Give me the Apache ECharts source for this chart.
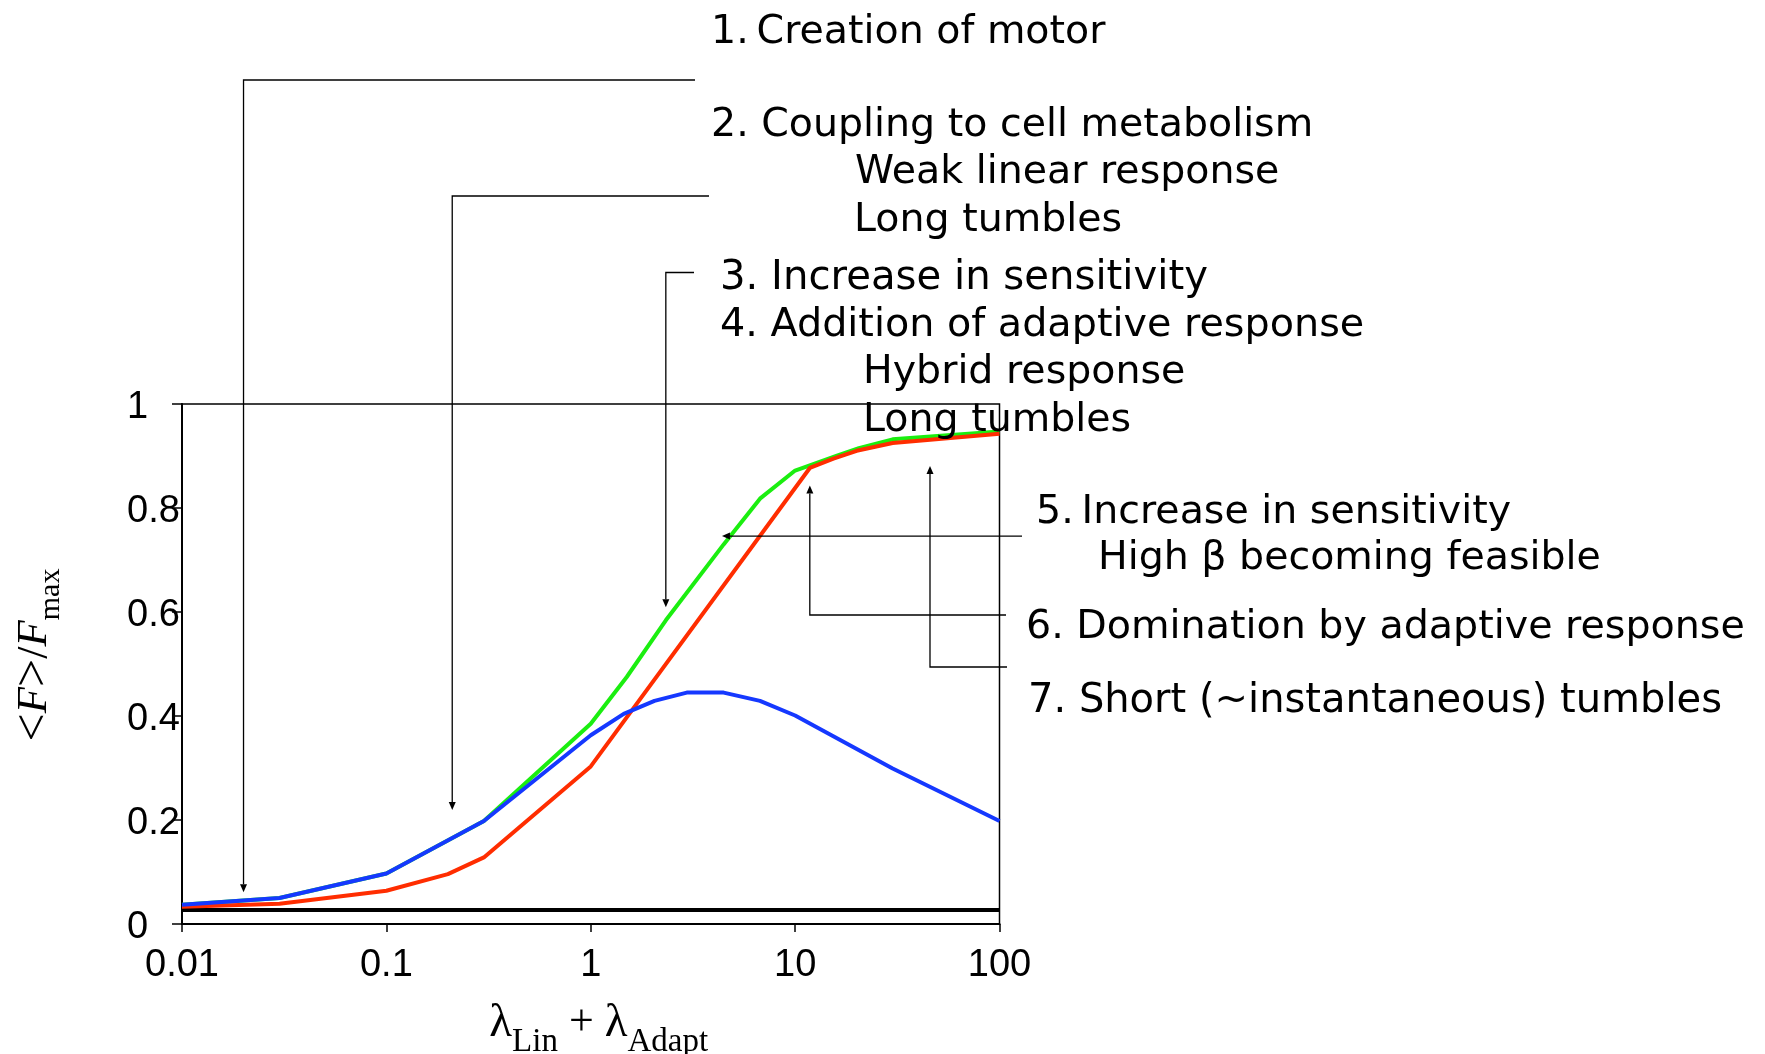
<!DOCTYPE html>
<html>
<head>
<meta charset="utf-8">
<script src="https://cdn.jsdelivr.net/npm/echarts@6/dist/echarts.min.js"></script>
<style>
html,body{margin:0;padding:0;background:#fff;}
#c{width:1765px;height:1054px;}
</style>
</head>
<body>
<div id="c"></div>
<script>
// ---------- data ----------
const xTickLabels = ['0.01', '0.1', '1', '10', '100'];
const yTickLabels = ['0', '0.2', '0.4', '0.6', '0.8', '1'];

const xBase = [0.01, 100];
const yBase = [0.027, 0.027];

const xGreen = [0.01, 0.03, 0.1, 0.3, 1, 1.5, 2.33, 4.47, 6.73, 10, 15.9, 20.5, 30, 100];
const yGreen = [0.037, 0.05, 0.097, 0.198, 0.385, 0.475, 0.584, 0.73, 0.818, 0.872, 0.9, 0.915, 0.932, 0.947];

const xRed = [0.01, 0.03, 0.1, 0.2, 0.3, 1, 11.8, 15.4, 20, 30, 100];
const yRed = [0.033, 0.039, 0.064, 0.096, 0.128, 0.303, 0.877, 0.895, 0.91, 0.925, 0.943];

const xBlue = [0.01, 0.03, 0.1, 0.3, 1, 1.45, 2.05, 2.95, 4.47, 6.73, 10, 30, 100];
const yBlue = [0.037, 0.05, 0.097, 0.198, 0.363, 0.404, 0.429, 0.445, 0.445, 0.429, 0.401, 0.299, 0.198];

const noteTexts = [
  '1.\u2009Creation of motor',
  '2. Coupling to cell metabolism',
  'Weak linear response',
  'Long tumbles',
  '3. Increase in sensitivity',
  '4. Addition of adaptive response',
  'Hybrid response',
  'Long tumbles',
  '5.\u2009Increase in sensitivity',
  'High \u03b2 becoming feasible',
  '6. Domination by adaptive response',
  '7. Short (~instantaneous) tumbles'
];

// arrow tips, in data coordinates [x, y]
const arrowTipX = [0.02, 0.21, 2.33, 4.385, 11.8, 45.7];
const arrowTipY = [0.061, 0.219, 0.609, 0.746, 0.8435, 0.881];

// ---------- layout ----------
const notePos = [
  [711, 33], [711, 126], [855, 173], [854, 221], [720, 279], [720, 326],
  [863, 373], [863, 421], [1036, 513], [1098, 559], [1026, 628], [1028, 702]
];
const noteSize = [39.5, 39.5, 39.5, 39.5, 40.2, 39.7, 39.5, 39.5, 39.5, 39.5, 39.6, 40];
const leaderLayout = [
  {dir: 'down', elbow: 80, end: 695},
  {dir: 'down', elbow: 196, end: 709},
  {dir: 'down', elbow: 272.5, end: 694},
  {dir: 'left', end: 1022},
  {dir: 'up', elbow: 615, end: 1006},
  {dir: 'up', elbow: 667, end: 1007}
];

const pair = (xs, ys) => xs.map((x, i) => [x, ys[i]]);
const chart = echarts.init(document.getElementById('c'), null, {renderer: 'canvas'});

const serif = 'Liberation Serif';
const sans = 'Liberation Sans';

function lineSeries(name, xs, ys, color, width) {
  return {
    name: name, type: 'line', data: pair(xs, ys), showSymbol: false, symbol: 'none',
    lineStyle: {color: color, width: width}, itemStyle: {color: color},
    clip: false, silent: true, z: 3
  };
}

chart.setOption({
  animation: false,
  backgroundColor: '#fff',
  grid: {
    left: 182, right: 765.5, top: 404, bottom: 130,
    containLabel: false, outerBoundsMode: 'none',
    show: true, borderColor: '#000', borderWidth: 1.5, backgroundColor: 'transparent'
  },
  xAxis: {
    type: 'log', logBase: 10, min: 0.01, max: 100,
    axisLine: {show: true, lineStyle: {color: '#000', width: 2}},
    axisTick: {show: true, length: 8, lineStyle: {color: '#000', width: 1.5}},
    minorTick: {show: false},
    splitLine: {show: false},
    axisLabel: {
      color: '#000', fontFamily: sans, fontSize: 38, margin: 23,
      formatter: v => xTickLabels[Math.round(Math.log10(v)) + 2]
    },
    name: '{m|\u03bb}{s|Lin}{p| + }{m|\u03bb}{s|Adapt}',
    nameLocation: 'middle',
    nameGap: 64,
    nameTextStyle: {
      color: '#000', fontFamily: serif, fontSize: 46, padding: [0, 0, 0, 16],
      rich: {
        m: {fontFamily: serif, fontSize: 47, color: '#000'},
        p: {fontFamily: serif, fontSize: 44, color: '#000'},
        s: {fontFamily: serif, fontSize: 33, color: '#000', padding: [38, 0, 0, 0]}
      }
    }
  },
  yAxis: {
    type: 'value', min: 0, max: 1, interval: 0.2,
    axisLine: {show: true, lineStyle: {color: '#000', width: 2}},
    axisTick: {show: true, length: 10, lineStyle: {color: '#000', width: 1.5}},
    splitLine: {show: false},
    axisLabel: {
      color: '#000', fontFamily: sans, fontSize: 38, margin: 55, align: 'left',
      formatter: v => '{v|' + yTickLabels[Math.round(v * 5)] + '}',
      rich: {
        v: {fontFamily: sans, fontSize: 38, color: '#000', padding: [7, 0, 0, 0]}
      }
    },
    name: '{a|<}{f|F}{a|>}{b|/}{f|F}{s|max}',
    nameLocation: 'middle',
    nameRotate: 90,
    nameGap: 116,
    nameTextStyle: {
      color: '#000', fontFamily: serif, fontSize: 43, padding: [0, 0, 0, 18],
      rich: {
        a: {fontFamily: serif, fontSize: 50, color: '#000'},
        b: {fontFamily: serif, fontSize: 44, color: '#000'},
        f: {fontFamily: serif, fontSize: 43, fontStyle: 'italic', color: '#000'},
        s: {fontFamily: serif, fontSize: 30, color: '#000', padding: [32, 0, 0, 0]}
      }
    }
  },
  series: [
    lineSeries('base', xBase, yBase, '#000000', 4),
    lineSeries('green', xGreen, yGreen, '#1BEE10', 4),
    lineSeries('red', xRed, yRed, '#FF2D00', 4),
    lineSeries('blue', xBlue, yBlue, '#1538FF', 4)
  ]
});

// ---------- annotations ----------
const graphics = [];
noteTexts.forEach((t, i) => {
  graphics.push({
    type: 'text', x: notePos[i][0], y: notePos[i][1], z: 10,
    style: {
      text: t, fill: '#000', font: noteSize[i] + 'px "DejaVu Sans"',
      textAlign: 'left', textVerticalAlign: 'middle', align: 'left', verticalAlign: 'middle'
    }
  });
});

const AL = 8, AW = 3.5;
leaderLayout.forEach((L, i) => {
  const tip = chart.convertToPixel({gridIndex: 0}, [arrowTipX[i], arrowTipY[i]]);
  const tx = tip[0], ty = tip[1];
  let pts, head;
  if (L.dir === 'down') {
    pts = [[L.end, L.elbow], [tx, L.elbow], [tx, ty - AL]];
    head = [[tx, ty], [tx - AW, ty - AL], [tx + AW, ty - AL]];
  } else if (L.dir === 'up') {
    pts = [[L.end, L.elbow], [tx, L.elbow], [tx, ty + AL]];
    head = [[tx, ty], [tx - AW, ty + AL], [tx + AW, ty + AL]];
  } else {
    pts = [[L.end, ty], [tx + AL, ty]];
    head = [[tx, ty], [tx + AL, ty - AW], [tx + AL, ty + AW]];
  }
  graphics.push({type: 'polyline', z: 10, shape: {points: pts}, style: {stroke: '#000', lineWidth: 1.3, fill: null}});
  graphics.push({type: 'polygon', z: 10, shape: {points: head}, style: {fill: '#000', stroke: null}});
});

chart.setOption({graphic: graphics});
</script>
</body>
</html>
